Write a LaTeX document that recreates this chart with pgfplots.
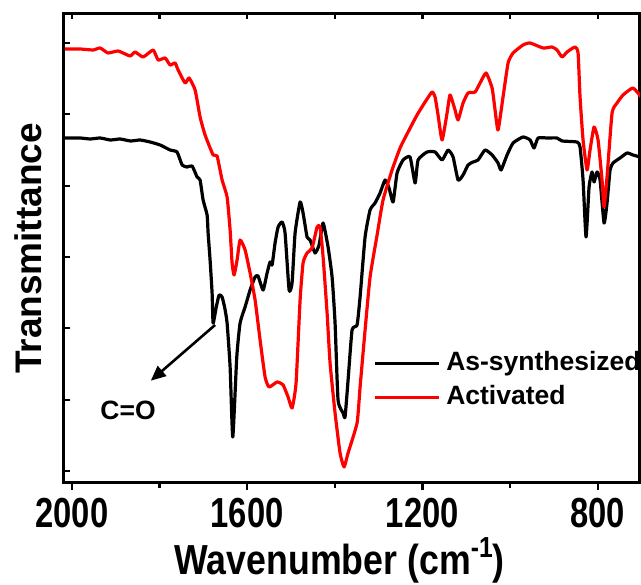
\documentclass[border=0pt]{standalone}
\usepackage{pgfplots}
\pgfplotsset{compat=1.18}
\usepackage{pgfplotstable}
\usetikzlibrary{arrows.meta}
\usepackage{fontspec}
\setmainfont{Liberation Sans}
\newfontfamily\ticknarrow{Liberation Sans Bold}[FakeStretch=0.78]
\newfontfamily\labelnarrow{Liberation Sans Bold}[FakeStretch=0.85]

\pgfplotstableread{
wn T
2015.3 345
1981.1 345
1958 344
1935.4 345
1912 343
1889.8 344
1866 342
1844.2 343
1821.4 341
1798.5 338
1775.7 333
1759.8 331
1748.3 318
1737.0 316
1725.5 317
1714.1 306
1707.3 303
1700.4 283
1691.3 268
1689.0 250
1684.5 223
1679.9 190
1677.6 160
1670.8 175
1664 188
1657.1 186
1651 175
1645.7 160
1638.8 116
1632.7 46
1623.6 126
1616.0 160
1604.6 176
1593.2 193
1581.8 206
1575.0 207
1563.5 193
1554.4 210
1547.6 221
1543.0 218
1536.2 240
1529.3 256
1520.2 261
1513.4 250
1504.2 193
1497.4 200
1490.5 250
1479.1 281
1472.3 270
1463.2 246
1456.3 243
1445.0 230
1435.8 238
1426.6 260
1415.3 236
1406.1 206
1399.3 160
1392.5 83
1381.0 70
1376.5 66
1369.6 103
1360.5 153
1349.1 158
1342.2 186
1330.8 246
1319.4 273
1308.0 280
1296.6 290
1285.2 303
1276.1 295
1266.9 281
1257.8 310
1244.1 323
1228.2 326
1216.7 300
1209.9 323
1189.4 331
1171.1 331
1155.1 323
1141.4 333
1130.0 326
1118.6 303
1107.2 308
1095.8 318
1084.4 321
1073.0 323
1057.0 333
1041.0 328
1027.4 320
1020.5 313
1006.8 328
993.1 340
970.4 346
954.3 343
945.3 335
936.1 345
915.6 345
892.8 345
881.3 342
847.2 341
840.3 336
833.4 303
826.6 246
819.7 296
812.9 311
808.3 301
801.5 311
794.6 303
785.5 260
778.7 280
771.8 313
765.0 320
749.0 325
733.0 330
719.4 328
703.4 326
}\assyn

\pgfplotstableread{
wn T
2015.3 434
1981.1 434
1951.4 433
1935.4 435
1917.2 430
1894.4 432
1867.0 427
1855.6 431
1837.3 426
1814.5 433
1803.1 423
1787.1 425
1775.7 418
1764.3 420
1757.5 413
1741.5 400
1732.4 405
1718.7 393
1707.3 366
1695.9 348
1677.6 328
1668.5 327
1657.1 303
1645.7 286
1638.8 253
1634.3 220
1629.7 208
1622.9 223
1616.0 243
1604.6 233
1593.2 210
1581.8 183
1570.4 143
1559.0 106
1549.9 96
1531.6 101
1517.9 98
1506.5 86
1497.4 75
1488.3 100
1479.1 183
1472.3 220
1463.2 230
1451.7 235
1440.3 256
1433.5 256
1426.6 226
1417.5 170
1410.7 120
1399.3 70
1387.9 30
1378.7 16
1369.6 30
1349.1 60
1342.2 96
1330.8 153
1319.4 206
1303.4 248
1289.8 283
1269.2 313
1251.0 335
1232.7 351
1212.2 368
1193.9 381
1178.0 391
1171.1 386
1164.3 368
1155.1 343
1143.7 370
1136.9 388
1125.5 373
1118.6 363
1107.2 380
1095.8 390
1079.8 391
1068.4 400
1054.7 410
1041.0 395
1034.2 373
1027.4 353
1016.0 386
1004.5 420
993.1 430
970.4 438
954.3 440
924.7 435
904.2 436
892.8 433
881.3 426
870.0 431
851.7 436
844.8 430
840.3 386
833.4 343
824.3 313
817.5 333
808.3 356
799.2 343
790.1 303
785.5 276
778.7 306
767.2 370
755.8 380
742.2 388
719.4 395
701.2 386
}\activ

\begin{document}
\begin{tikzpicture}
\useasboundingbox (-63.5pt,-102pt) rectangle (577.5pt,483pt);
\begin{axis}[
  at={(0pt,0pt)}, anchor=south west,
  scale only axis, width=576.5pt, height=469pt,
  x dir=reverse, xmin=703.5, xmax=2019,
  ymin=0, ymax=469,
  axis line style={line width=3pt},
  xtick={800,1200,1600,2000},
  xticklabels={800,1200,1600,2000},
  minor xtick={1000,1400,1800},
  xtick pos=left, xtick align=outside,
  major tick length=7pt, minor tick length=5pt,
  every tick/.style={black, line width=2.2pt},
  ytick={12.3,83.3,154.7,226,297.3,368.6,440},
  yticklabels={},
  ytick pos=left, ytick align=inside,
  /pgf/number format/assume math mode=true,
  xticklabel style={font=\ticknarrow\fontsize{42}{42}\selectfont, yshift=-5pt},
  xlabel={Wavenumber (cm\raisebox{0.42em}{\fontsize{29}{29}\selectfont -1})},
  xlabel style={font=\labelnarrow\fontsize{42}{42}\selectfont, at={(axis description cs:0.479,-0.196)}, anchor=base},
  ylabel={\bfseries Transmittance},
  ylabel style={font=\fontsize{37}{37}\selectfont, at={(axis description cs:-0.0373,0.5)}, anchor=base},
  legend style={draw=none, fill=none, at={(axis description cs:0.537,0.28)}, anchor=north west,
    font=\bfseries\fontsize{26.5}{26.5}\selectfont, inner xsep=0pt, inner ysep=0pt,
    row sep=10pt, column sep=6pt,
    nodes={inner sep=0pt, text height=19pt, text depth=5pt}},
  legend image code/.code={\draw[#1, line width=3pt] (0pt,0pt) -- (64pt,0pt);},
  legend cell align=left,
]
\addplot[black, line width=3.2pt, smooth, tension=0.3, line join=round] table[x=wn,y=T] {\assyn};
\addlegendentry{As-synthesized}
\addplot[red, line width=3.2pt, smooth, tension=0.3, line join=round] table[x=wn,y=T] {\activ};
\addlegendentry{Activated}
\draw[line width=2.6pt, -{Triangle[length=15pt,width=13pt]}] (axis cs:1673.1,158) -- (axis cs:1819.8,102.3);
\node[font=\bfseries\fontsize{26.5}{26.5}\selectfont, anchor=center] at (axis cs:1871.6,73) {C=O};
\end{axis}
\begin{axis}[
  at={(0pt,0pt)}, anchor=south west,
  scale only axis, width=576.5pt, height=469pt,
  x dir=reverse, xmin=703.5, xmax=2019,
  ymin=0, ymax=469,
  axis line style={draw=none},
  xtick={800,1000,1200,1400,1600,1800,2000},
  xticklabels={},
  xtick pos=right, xtick align=inside,
  major tick length=5pt,
  every tick/.style={black, line width=2.2pt},
  ytick=\empty,
]
\end{axis}
\end{tikzpicture}
\end{document}
